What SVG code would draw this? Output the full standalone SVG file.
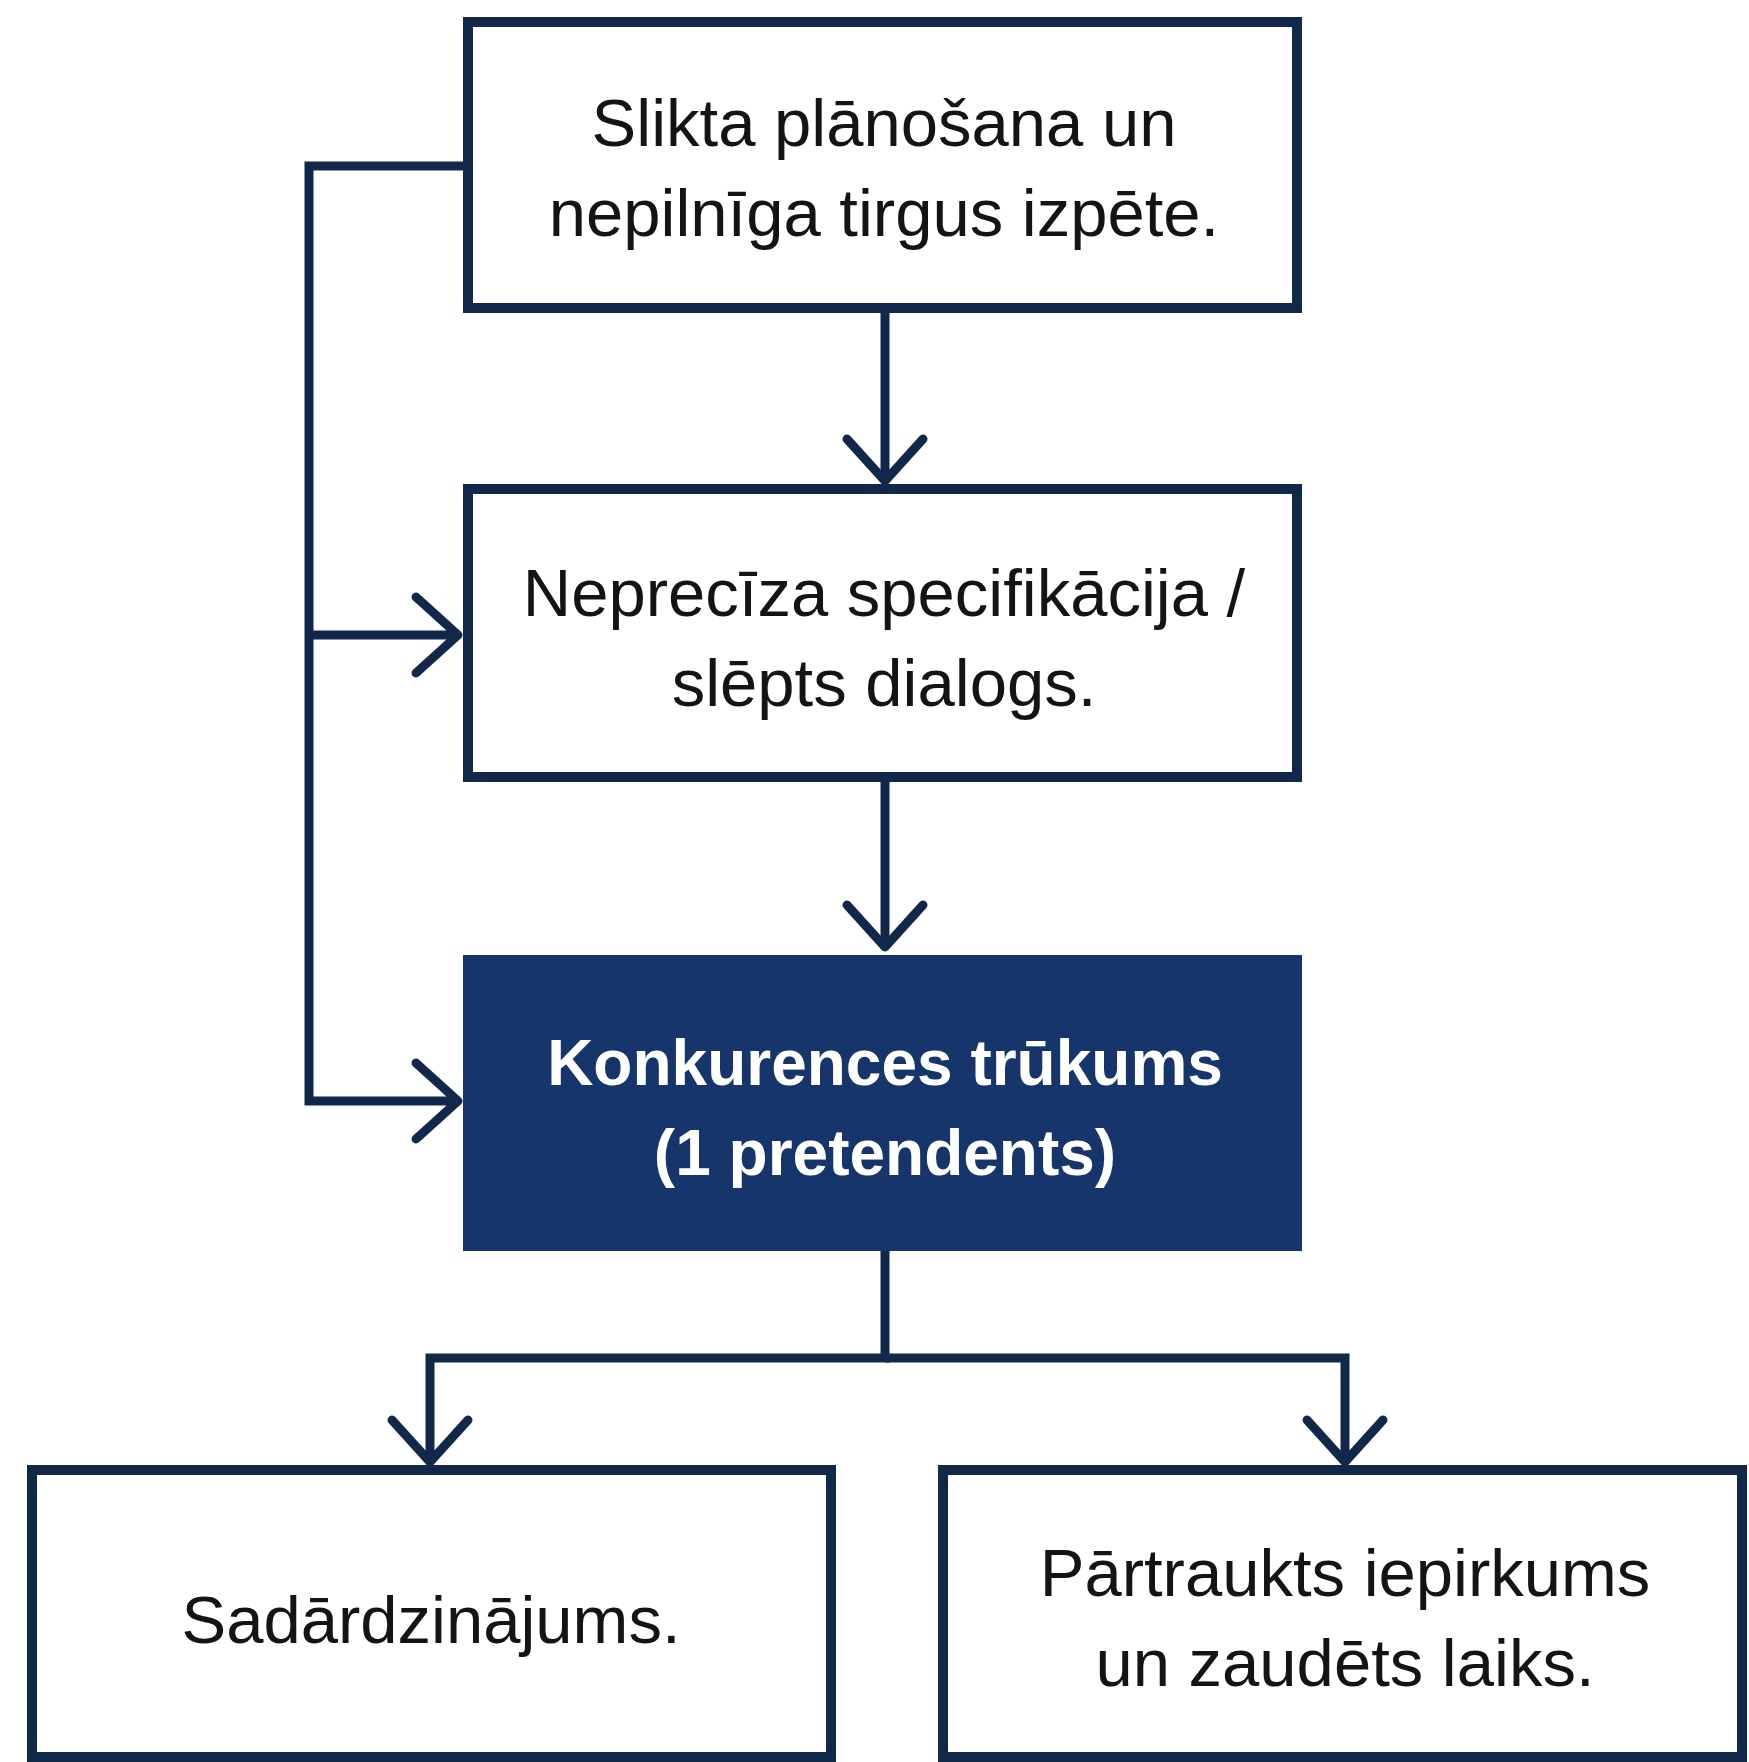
<svg xmlns="http://www.w3.org/2000/svg" width="1749" height="1762" viewBox="0 0 1749 1762">
<style>
.box{fill:#ffffff;stroke:#12284a;stroke-width:10}
.dark{fill:#15356b;stroke:#15356b;stroke-width:10}
.t{font-family:"Liberation Sans",Arial,sans-serif;font-size:67px;fill:#141414;text-anchor:middle}
.tb{font-family:"Liberation Sans",Arial,sans-serif;font-size:64px;font-weight:bold;fill:#ffffff;text-anchor:middle}
.c{fill:none;stroke:#12284a;stroke-width:9;stroke-linejoin:miter}
</style>
<defs>
<marker id="ah" markerUnits="userSpaceOnUse" viewBox="-55 -50 65 100" markerWidth="65" markerHeight="100" refX="0" refY="0" orient="auto" overflow="visible">
<path d="M-42,-38 L0,0 L-42,38" fill="none" stroke="#12284a" stroke-width="9" stroke-linecap="round" stroke-linejoin="round"/>
</marker>
</defs>
<rect width="1749" height="1762" fill="#ffffff"/>
<g id="connectors">
<path class="c" d="M885,313 L885,481" marker-end="url(#ah)"/>
<path class="c" d="M885,782 L885,947" marker-end="url(#ah)"/>
<path class="c" d="M463,166 L309,166 L309,1101 L458,1101" marker-end="url(#ah)"/>
<path class="c" d="M309,635 L458,635" marker-end="url(#ah)"/>
<path class="c" d="M885,1250 L885,1358 L430,1358 L430,1462" marker-end="url(#ah)"/>
<path class="c" d="M885,1358 L1345,1358 L1345,1462" marker-end="url(#ah)"/>
</g>
<g id="node1">
<rect class="box" x="468" y="22" width="829" height="286"/>
<text class="t" x="884" y="146">Slikta plānošana un</text>
<text class="t" x="884" y="236">nepilnīga tirgus izpēte.</text>
</g>
<g id="node2">
<rect class="box" x="468" y="489" width="829" height="288"/>
<text class="t" x="884" y="616">Neprecīza specifikācija /</text>
<text class="t" x="884" y="706">slēpts dialogs.</text>
</g>
<g id="node3">
<rect class="dark" x="468" y="960" width="829" height="286"/>
<text class="tb" x="885" y="1085">Konkurences trūkums</text>
<text class="tb" x="885" y="1175">(1 pretendents)</text>
</g>
<g id="node4">
<rect class="box" x="32" y="1470" width="799" height="287"/>
<text class="t" x="431" y="1643">Sadārdzinājums.</text>
</g>
<g id="node5">
<rect class="box" x="943" y="1470" width="799" height="287"/>
<text class="t" x="1345" y="1596">Pārtraukts iepirkums</text>
<text class="t" x="1345" y="1686">un zaudēts laiks.</text>
</g>
</svg>
